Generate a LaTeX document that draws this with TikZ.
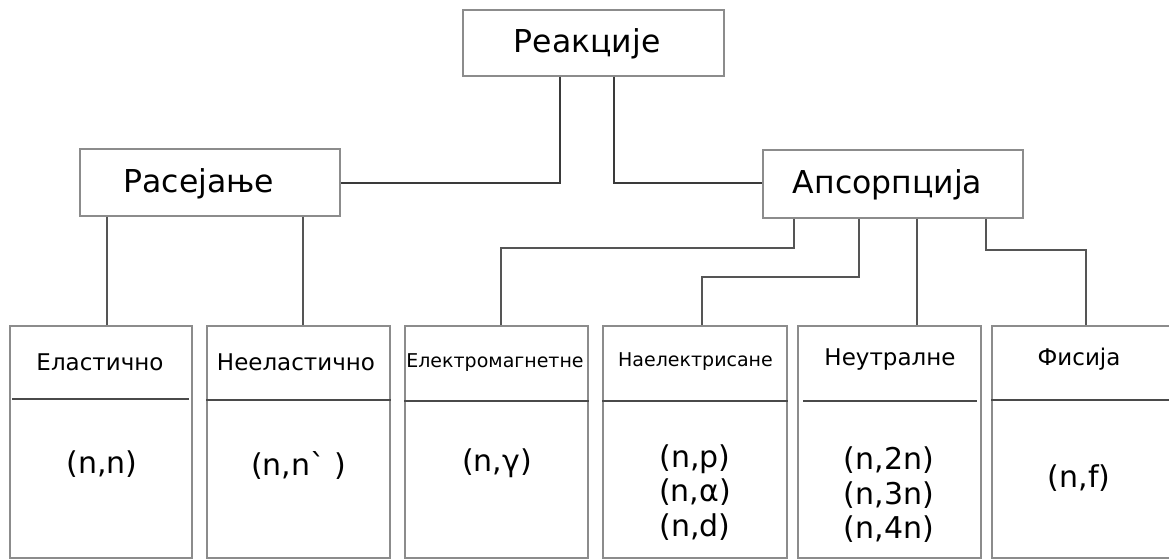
\documentclass[tikz,border=0pt]{standalone}
\usepackage{fontspec}
\newfontfamily\dv{DejaVu Sans}
\definecolor{boxgray}{HTML}{8C8C8C}
\definecolor{conndark}{HTML}{3A3A3A}
\definecolor{connmid}{HTML}{555555}
\definecolor{divgray}{HTML}{4A4A4A}
\begin{document}
\begin{tikzpicture}[x=1pt,y=-1pt,
  box/.style={draw=boxgray, line width=1.3pt, inner sep=0pt, rectangle},
  topconn/.style={draw=conndark, line width=1.7pt},
  subconn/.style={draw=connmid, line width=1.3pt},
  divider/.style={draw=divgray, line width=1.3pt},
  bigtxt/.style={anchor=base, inner sep=0pt, font=\dv\fontsize{31.5}{36}\selectfont},
  ttl/.style={anchor=base, inner sep=0pt, font=\dv\fontsize{23}{27}\selectfont},
  ttlsmall/.style={anchor=base, inner sep=0pt, font=\dv\fontsize{19}{23}\selectfont},
  rx/.style={inner sep=0pt, align=center, font=\dv\fontsize{30}{34.5}\selectfont}
]
\useasboundingbox (0,0) rectangle (1169,559);

% top level
\node[box, minimum width=261pt, minimum height=66pt] (reak) at (593.5,43) {};
\node[bigtxt] (reakt) at (587,53) {Реакције};

\node[box, minimum width=260pt, minimum height=67pt] (rasej) at (210,182.5) {};
\node[bigtxt] (rasejt) at (199,192) {Расејање};

\node[box, minimum width=260pt, minimum height=68pt] (aps) at (893,184) {};
\node[bigtxt] (apst) at (887.5,193) {Апсорпција};

% bottom boxes
\node[box, minimum width=182pt, minimum height=232pt] (b1) at (101,442) {};
\node[box, minimum width=183pt, minimum height=232pt] (b2) at (298.5,442) {};
\node[box, minimum width=183pt, minimum height=232pt] (b3) at (496.5,442) {};
\node[box, minimum width=184pt, minimum height=232pt] (b4) at (695,442) {};
\node[box, minimum width=183pt, minimum height=232pt] (b5) at (889.5,442) {};
\node[box, minimum width=190pt, minimum height=232pt] (b6) at (1087,442) {};

% dividers
\draw[divider] (12,399) -- (189,399);
\draw[divider] (b2.west |- 0,400) -- (b2.east |- 0,400);
\draw[divider] (b3.west |- 0,401) -- (b3.east |- 0,401);
\draw[divider] (b4.west |- 0,401) -- (b4.east |- 0,401);
\draw[divider] (803,401) -- (977,401);
\draw[divider] (b6.west |- 0,400) -- (b6.east |- 0,400);

% titles
\node[ttl] (t1) at (100,370) {Еластично};
\node[ttl] (t2) at (296,370) {Нееластично};
\node[ttlsmall] (t3) at (495,367) {Електромагнетне};
\node[ttlsmall] (t4) at (695.5,366) {Наелектрисане};
\node[ttl] (t5) at (890,365) {Неутралне};
\node[ttl] (t6) at (1079,365) {Фисија};

% reactions
\node[rx] (r1) at (102,464) {(n,n)};
\node[rx] (r2) at (298.5,465) {(n,n`\hspace{9pt})};
\node[rx] (r3) at (497,463) {(n,γ)};
\node[rx] (r4) at (695,492.5) {(n,p)\\(n,α)\\(n,d)};
\node[rx] (r5) at (889,495) {(n,2n)\\(n,3n)\\(n,4n)};
\node[rx] (r6) at (1079,478) {(n,f)};

% connector helper coordinates
\coordinate (p1) at (560,183);
\coordinate (p2) at (614,183);
\coordinate (q1) at (107,0);
\coordinate (q2) at (303,0);
\coordinate (k3) at (794,248);
\coordinate (m3) at (501,248);
\coordinate (k4) at (859,277);
\coordinate (m4) at (702,277);
\coordinate (k5) at (917,0);
\coordinate (k6) at (986,250);
\coordinate (m6) at (1086,250);

% connectors
\draw[topconn] (reak.south -| p1) -- (p1) -- (rasej.east |- p1);
\draw[topconn] (reak.south -| p2) -- (p2) -- (aps.west |- p2);

\draw[subconn] (rasej.south -| q1) -- (b1.north -| q1);
\draw[subconn] (rasej.south -| q2) -- (b2.north -| q2);

\draw[subconn] (aps.south -| k3) -- (k3) -- (m3) -- (b3.north -| m3);
\draw[subconn] (aps.south -| k4) -- (k4) -- (m4) -- (b4.north -| m4);
\draw[subconn] (aps.south -| k5) -- (b5.north -| k5);
\draw[subconn] (aps.south -| k6) -- (k6) -- (m6) -- (b6.north -| m6);
\end{tikzpicture}
\end{document}
